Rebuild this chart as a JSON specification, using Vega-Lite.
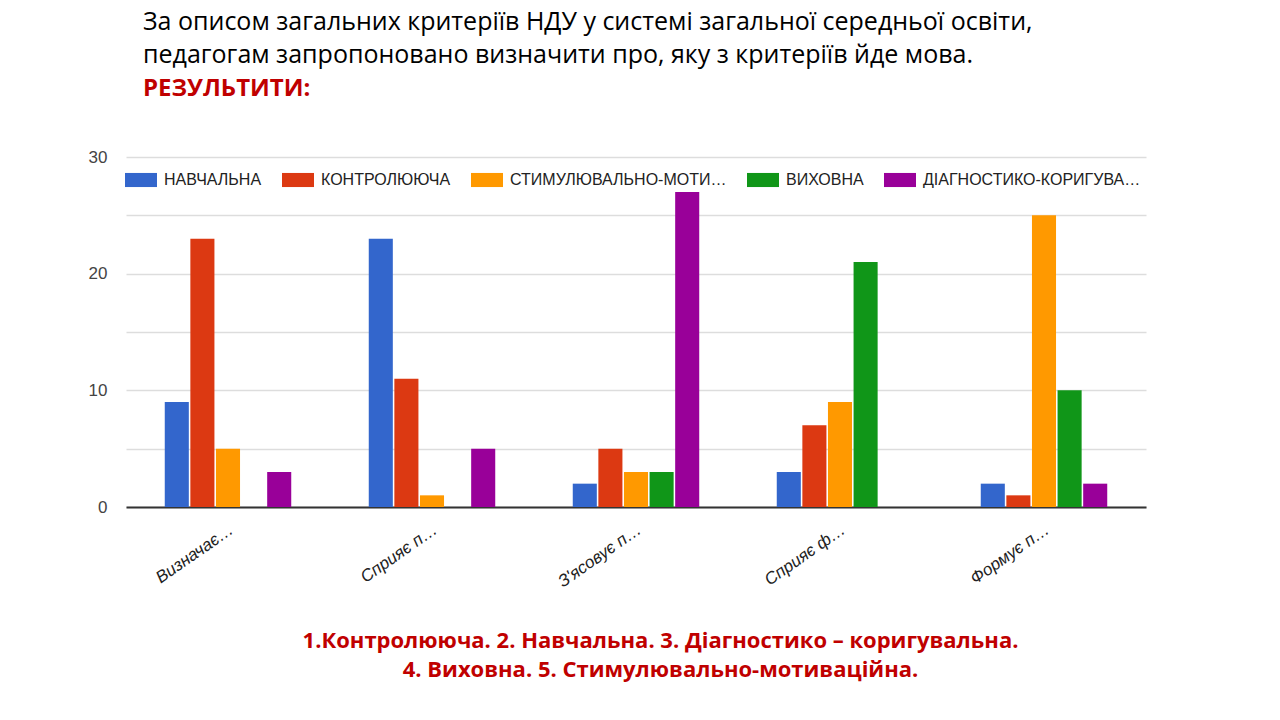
{
  "$schema": "https://vega.github.io/schema/vega-lite/v6.json",
  "autosize": "none",
  "width": 1020,
  "height": 350,
  "padding": {"left": 126, "top": 157, "right": 134, "bottom": 213},
  "background": "white",
  "title": {
    "text": ["За описом загальних критеріїв НДУ у системі загальної середньої освіти,", "педагогам запропоновано визначити про, яку з критеріїв йде мова."],
    "subtitle": "РЕЗУЛЬТИТИ:",
    "anchor": "start",
    "frame": "group",
    "dx": 17,
    "offset": 47,
    "font": "Open Sans",
    "fontSize": 25,
    "fontWeight": "normal",
    "color": "#000000",
    "lineHeight": 33,
    "subtitleFont": "Open Sans",
    "subtitleFontSize": 24,
    "subtitleFontWeight": "bold",
    "subtitleColor": "#C00000",
    "subtitlePadding": 9
  },
  "config": {
    "view": {"stroke": null},
    "font": "Liberation Sans"
  },
  "data": {
    "values": [
      {"criterion": "Визначає…", "type": "НАВЧАЛЬНА", "count": 9},
      {"criterion": "Визначає…", "type": "КОНТРОЛЮЮЧА", "count": 23},
      {"criterion": "Визначає…", "type": "СТИМУЛЮВАЛЬНО-МОТИ…", "count": 5},
      {"criterion": "Визначає…", "type": "ВИХОВНА", "count": 0},
      {"criterion": "Визначає…", "type": "ДІАГНОСТИКО-КОРИГУВА…", "count": 3},
      {"criterion": "Сприяє п…", "type": "НАВЧАЛЬНА", "count": 23},
      {"criterion": "Сприяє п…", "type": "КОНТРОЛЮЮЧА", "count": 11},
      {"criterion": "Сприяє п…", "type": "СТИМУЛЮВАЛЬНО-МОТИ…", "count": 1},
      {"criterion": "Сприяє п…", "type": "ВИХОВНА", "count": 0},
      {"criterion": "Сприяє п…", "type": "ДІАГНОСТИКО-КОРИГУВА…", "count": 5},
      {"criterion": "З'ясовує п…", "type": "НАВЧАЛЬНА", "count": 2},
      {"criterion": "З'ясовує п…", "type": "КОНТРОЛЮЮЧА", "count": 5},
      {"criterion": "З'ясовує п…", "type": "СТИМУЛЮВАЛЬНО-МОТИ…", "count": 3},
      {"criterion": "З'ясовує п…", "type": "ВИХОВНА", "count": 3},
      {"criterion": "З'ясовує п…", "type": "ДІАГНОСТИКО-КОРИГУВА…", "count": 27},
      {"criterion": "Сприяє ф…", "type": "НАВЧАЛЬНА", "count": 3},
      {"criterion": "Сприяє ф…", "type": "КОНТРОЛЮЮЧА", "count": 7},
      {"criterion": "Сприяє ф…", "type": "СТИМУЛЮВАЛЬНО-МОТИ…", "count": 9},
      {"criterion": "Сприяє ф…", "type": "ВИХОВНА", "count": 21},
      {"criterion": "Сприяє ф…", "type": "ДІАГНОСТИКО-КОРИГУВА…", "count": 0},
      {"criterion": "Формує п…", "type": "НАВЧАЛЬНА", "count": 2},
      {"criterion": "Формує п…", "type": "КОНТРОЛЮЮЧА", "count": 1},
      {"criterion": "Формує п…", "type": "СТИМУЛЮВАЛЬНО-МОТИ…", "count": 25},
      {"criterion": "Формує п…", "type": "ВИХОВНА", "count": 10},
      {"criterion": "Формує п…", "type": "ДІАГНОСТИКО-КОРИГУВА…", "count": 2}
    ]
  },
  "mark": {"type": "bar", "strokeWidth": 0},
  "encoding": {
    "x": {
      "field": "criterion",
      "type": "nominal",
      "sort": null,
      "scale": {"paddingInner": 0.38, "paddingOuter": 0.19},
      "axis": {
        "title": ["1.Контролююча. 2. Навчальна. 3. Діагностико – коригувальна.", "4. Виховна. 5. Стимулювально-мотиваційна."],
        "titleFont": "Open Sans",
        "titleFontSize": 22,
        "titleFontWeight": "bold",
        "titleColor": "#C00000",
        "titleLineHeight": 29,
        "titleX": 534,
        "titleY": 123,
        "titleAlign": "center",
        "titleAnchor": null,
        "titleBaseline": "top",
        "labelAngle": -35,
        "labelAlign": "right",
        "labelBaseline": "top",
        "labelFont": "Liberation Sans",
        "labelFontSize": 17,
        "labelFontStyle": "italic",
        "labelColor": "#222222",
        "labelPadding": 14,
        "labelOffset": -1,
        "ticks": false,
        "domain": true,
        "domainColor": "#333333",
        "domainWidth": 2
      }
    },
    "xOffset": {
      "field": "type",
      "type": "nominal",
      "sort": null,
      "scale": {"paddingInner": 0.06}
    },
    "y": {
      "field": "count",
      "type": "quantitative",
      "scale": {"domain": [0, 30], "nice": false},
      "axis": {
        "title": null,
        "values": [0, 5, 10, 15, 20, 25, 30],
        "labelExpr": "datum.value % 10 === 0 ? datum.label : ''",
        "labelFont": "Liberation Sans",
        "labelFontSize": 17,
        "labelColor": "#444444",
        "labelPadding": 19,
        "ticks": false,
        "domain": false,
        "gridColor": "#dddddd",
        "gridWidth": 1.5
      }
    },
    "color": {
      "field": "type",
      "type": "nominal",
      "sort": null,
      "scale": {"range": ["#3366CC", "#DC3912", "#FF9900", "#109618", "#990099"]},
      "legend": {
        "title": null,
        "orient": "none",
        "legendX": -1,
        "legendY": 7,
        "direction": "horizontal",
        "columns": 5,
        "columnPadding": 20,
        "symbolType": "M-1,-0.44H1V0.44H-1Z",
        "symbolSize": 1024,
        "symbolStrokeWidth": 0,
        "symbolOpacity": 1,
        "labelFont": "Liberation Sans",
        "labelFontSize": 16,
        "labelColor": "#222222",
        "labelOffset": 7,
        "labelLimit": 300
      }
    }
  }
}
